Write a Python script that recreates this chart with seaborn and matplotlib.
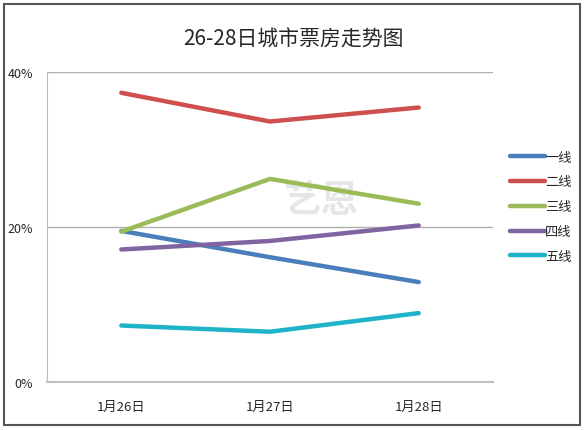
import matplotlib
matplotlib.use("Agg")
import matplotlib.pyplot as plt
import matplotlib.patches as patches
import numpy as np
import pandas as pd
import seaborn as sns

# 数据
dates = ["1月26日", "1月27日", "1月28日"]
tiers = ["一线", "二线", "三线", "四线", "五线"]
tier1 = [19.5, 16.1, 12.9]
tier2 = [37.3, 33.6, 35.4]
tier3 = [19.4, 26.2, 23.0]
tier4 = [17.1, 18.2, 20.2]
tier5 = [7.3, 6.5, 8.9]
colors = ["#4a7ebb", "#cf4f4f", "#9bbb59", "#8064a2", "#1fb3c8"]

sns.set_style("white")
plt.rcParams['font.family'] = ['Noto Sans CJK SC', 'DejaVu Sans']

rows = []
for name, vals in zip(tiers, [tier1, tier2, tier3, tier4, tier5]):
    for i, v in enumerate(vals):
        rows.append({"date": i, "tier": name, "share": v})
df = pd.DataFrame(rows)

fig = plt.figure(figsize=(5.87, 4.31), dpi=100)
ax = fig.add_axes([0.080, 0.111, 0.760, 0.720])

sns.lineplot(data=df, x="date", y="share", hue="tier", hue_order=tiers,
             palette=colors, linewidth=3.2, ax=ax, legend=True)

ax.set_xlim(-0.5, 2.5)
ax.set_ylim(0, 40)
ax.set_yticks([0, 20, 40])
ax.set_yticklabels(["0%", "20%", "40%"], fontsize=9)
ax.set_xticks(range(len(dates)))
ax.set_xticklabels(dates, fontsize=9.5)
ax.tick_params(axis="both", length=0)
ax.tick_params(axis="y", pad=10)
ax.tick_params(axis="x", pad=13)
ax.set_xlabel("")
ax.set_ylabel("")

for y in [20, 40]:
    ax.axhline(y, color="#b0b0b0", linewidth=1, zorder=0)
for s in ["top", "right"]:
    ax.spines[s].set_visible(False)
ax.spines["left"].set_color("#b8b8b8")
ax.spines["bottom"].set_color("#c0c0c0")
ax.spines["bottom"].set_linewidth(1.5)

# 水印
ax.text(1.09, 23.6, "艺恩", fontsize=27, color="#e6e6e6", ha="left", va="center",
        fontweight="bold", zorder=0)

leg = ax.legend(loc="center left", bbox_to_anchor=(1.027, 0.565), frameon=False,
                fontsize=9.5, handlelength=2.6, handletextpad=0.05,
                labelspacing=0.9, borderaxespad=0)
for line in leg.get_lines():
    line.set_linewidth(3.2)

fig.text(0.5, 0.909, "26-28日城市票房走势图", ha="center", va="center", fontsize=15)

fig.patches.append(patches.Rectangle((0.006, 0.012), 0.982, 0.976,
                                     transform=fig.transFigure, fill=False,
                                     edgecolor="#555555", linewidth=1.5))

fig.savefig("out.png", dpi=100)
